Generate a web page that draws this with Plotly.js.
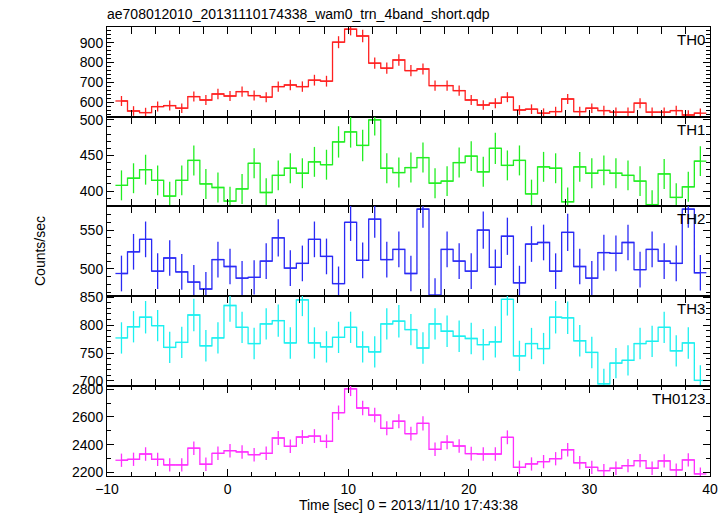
<!DOCTYPE html>
<html>
<head>
<meta charset="utf-8">
<script src="https://cdn.plot.ly/plotly-3.0.1.min.js"></script>
<style>html,body{margin:0;padding:0;background:#fff;}#chart{width:728px;height:516px;}</style>
</head>
<body>
<div id="chart"></div>
<script>
const time = [-8.8,-7.8,-6.8,-5.8,-4.8,-3.8,-2.8,-1.8,-0.8,0.2,1.2,2.2,3.2,4.2,5.2,6.2,7.2,8.2,9.2,10.2,11.2,12.2,13.2,14.2,15.2,16.2,17.2,18.2,19.2,20.2,21.2,22.2,23.2,24.2,25.2,26.2,27.2,28.2,29.2,30.2,31.2,32.2,33.2,34.2,35.2,36.2,37.2,38.2,39.2];
const halfBin = [0.5,0.5,0.5,0.5,0.5,0.5,0.5,0.5,0.5,0.5,0.5,0.5,0.5,0.5,0.5,0.5,0.5,0.5,0.5,0.5,0.5,0.5,0.5,0.5,0.5,0.5,0.5,0.5,0.5,0.5,0.5,0.5,0.5,0.5,0.5,0.5,0.5,0.5,0.5,0.5,0.5,0.5,0.5,0.5,0.5,0.5,0.5,0.5,0.5];

const th0 = [608,558,550,580,585,572,630,613,643,633,655,635,627,680,688,680,712,707,902,967,933,797,772,813,760,768,685,685,660,613,588,597,627,563,567,547,555,618,555,572,560,552,552,597,552,552,560,538,547];
const th0Err = [25,24,24,25,25,24,25,25,26,25,26,25,25,26,26,26,27,27,30,31,31,28,28,29,28,28,26,26,26,25,24,25,25,24,24,24,24,25,24,24,24,24,24,25,24,24,24,24,24];

const th1 = [408,418,430,415,393,415,443,410,405,386,403,439,398,422,432,425,441,437,469,483,464,500,432,426,433,447,411,414,440,449,427,460,436,443,396,434,432,385,434,425,429,425,422,414,381,424,391,406,442];
const th1Err = [21,21,21,21,20,21,21,21,21,20,21,21,20,21,21,21,21,21,22,22,22,22,21,21,21,21,21,21,21,21,21,22,21,21,20,21,21,20,21,21,21,21,21,21,20,21,20,21,21];

const th2 = [494,522,538,497,514,496,483,474,512,503,488,489,510,540,501,507,538,516,481,560,511,564,512,525,494,577,466,525,510,497,550,502,542,482,532,534,497,547,503,488,521,520,534,499,525,510,507,577,495];
const th2Err = [23,23,23,23,23,23,22,22,23,23,22,22,23,24,23,23,23,23,22,24,23,24,23,23,23,24,22,23,23,23,24,23,24,22,23,23,23,24,23,22,23,23,23,23,23,23,23,24,23];

const th3 = [777,797,814,799,760,769,818,763,777,835,796,767,802,808,768,845,768,761,778,796,761,752,802,807,792,759,802,789,780,776,765,770,846,745,767,758,814,813,772,751,695,732,737,767,771,796,754,768,701];
const th3Err = [28,28,29,28,28,28,29,28,28,29,28,28,28,29,28,29,28,28,28,28,28,28,28,29,28,28,28,28,28,28,28,28,29,27,28,28,29,29,28,28,27,27,27,28,28,28,28,28,27];

const th0123 = [2287,2294,2332,2294,2253,2253,2374,2258,2337,2356,2347,2327,2337,2448,2388,2455,2462,2424,2631,2804,2665,2614,2518,2569,2479,2554,2366,2417,2390,2335,2332,2332,2453,2236,2260,2277,2298,2363,2269,2236,2212,2229,2248,2284,2229,2282,2217,2289,2188];
const th0123Err = [48,48,49,48,48,48,49,48,49,49,49,49,49,50,49,50,50,49,52,53,52,52,51,51,50,51,49,50,49,49,49,49,50,48,48,48,48,49,48,48,47,48,48,48,48,48,47,48,47];

const bandNames = ['TH0','TH1','TH2','TH3','TH0123'];
const bandColors = ['#ff2020','#22ee22','#2a2af5','#1cf0f0','#ff30ff'];
const yRanges = [[528,978],[379,504],[465,581],[691,852],[2173,2824]];
const yDticks = [100,50,50,50,200];
const yMinor = [20,10,10,10,100];
const domains = [[0.7996,1],[0.6013,0.7996],[0.4009,0.6013],[0.2004,0.4009],[0,0.2004]];

const series = [th0, th1, th2, th3, th0123];
const errors = [th0Err, th1Err, th2Err, th3Err, th0123Err];

const FONT = 'Liberation Sans, Arial, Helvetica, sans-serif';

const traces = series.map((vals, i) => ({
  type: 'scatter',
  mode: 'lines',
  x: time,
  y: vals,
  xaxis: 'x',
  yaxis: i === 0 ? 'y' : 'y' + (i + 1),
  line: {shape: 'hvh', color: bandColors[i], width: 1.3},
  error_y: {type: 'data', array: errors[i], visible: true, width: 0, thickness: 1.3, color: bandColors[i]},
  error_x: {type: 'data', array: halfBin, visible: true, width: 0, thickness: 1.3, color: bandColors[i]},
  hoverinfo: 'skip',
  showlegend: false
}));

const layout = {
  width: 728,
  height: 516,
  margin: {l: 107, r: 18, t: 27, b: 40, pad: 0},
  paper_bgcolor: '#ffffff',
  plot_bgcolor: '#ffffff',
  font: {family: FONT, size: 14, color: '#000'},
  showlegend: false,
  title: {
    text: 'ae708012010_20131110174338_wam0_trn_4band_short.qdp',
    x: 107 / 728, xref: 'container', xanchor: 'left',
    y: 1 - 14 / 516, yref: 'container', yanchor: 'middle',
    font: {family: FONT, size: 14, color: '#000'}
  },
  xaxis: {
    range: [-10, 40],
    anchor: 'y5',
    dtick: 10, tick0: 0,
    ticks: 'inside', ticklen: 7, tickwidth: 1, tickcolor: '#000',
    minor: {dtick: 2, ticks: 'inside', ticklen: 4, tickcolor: '#000', showgrid: false},
    showline: true, linecolor: '#000', linewidth: 1, mirror: 'allticks',
    showgrid: false, zeroline: false,
    tickfont: {family: FONT, size: 14, color: '#000'},
    title: {text: 'Time [sec] 0 = 2013/11/10 17:43:38', standoff: 4, font: {family: FONT, size: 14, color: '#000'}}
  },
  annotations: [],
  shapes: []
};

for (let i = 0; i < 5; i++) {
  const key = i === 0 ? 'yaxis' : 'yaxis' + (i + 1);
  layout[key] = {
    domain: domains[i],
    anchor: 'x',
    range: yRanges[i],
    dtick: yDticks[i],
    ticks: 'inside', ticklen: 7, tickwidth: 1, tickcolor: '#000',
    minor: {dtick: yMinor[i], ticks: 'inside', ticklen: 4, tickcolor: '#000', showgrid: false},
    showline: true, linecolor: '#000', linewidth: 1, mirror: 'allticks',
    showgrid: false, zeroline: false,
    tickfont: {family: FONT, size: 14, color: '#000'}
  };
  layout.annotations.push({
    text: bandNames[i],
    xref: 'paper', yref: 'paper',
    x: 1, y: domains[i][1],
    xanchor: 'right', yanchor: 'top',
    xshift: -3, yshift: -2,
    showarrow: false,
    font: {family: FONT, size: 15, color: '#000'}
  });
}

layout.annotations.push({
  text: 'Counts/sec',
  xref: 'paper', yref: 'paper',
  x: 0, y: (domains[2][0] + domains[2][1]) / 2,
  xanchor: 'center', yanchor: 'middle',
  xshift: -67,
  textangle: -90,
  showarrow: false,
  font: {family: FONT, size: 14, color: '#000'}
});

Plotly.newPlot('chart', traces, layout, {staticPlot: true, displayModeBar: false});
</script>
</body>
</html>
